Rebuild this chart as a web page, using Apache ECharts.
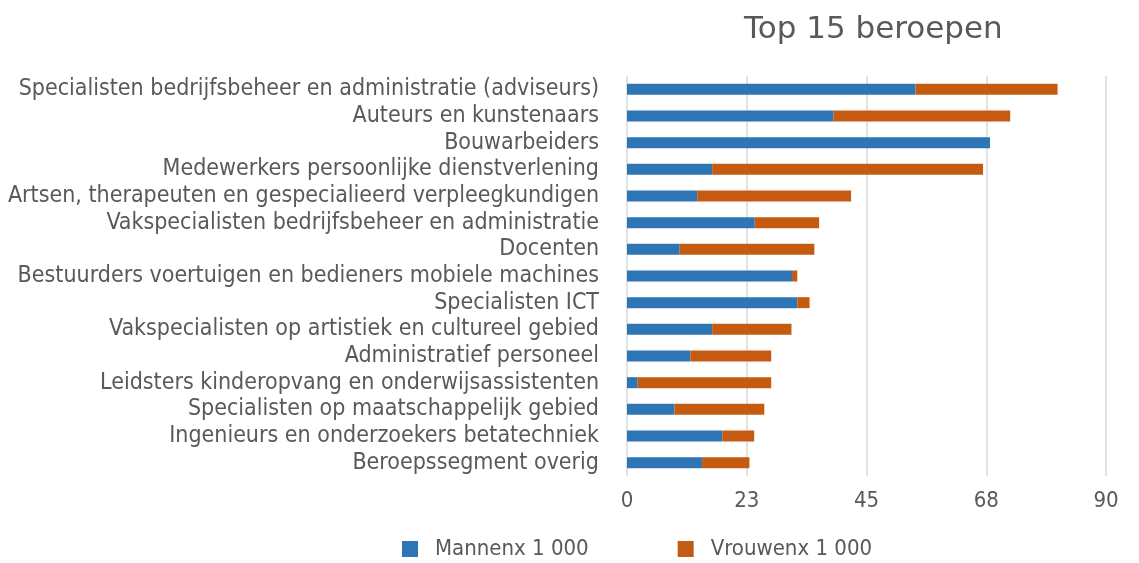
<!DOCTYPE html>
<html>
<head>
<meta charset="utf-8">
<script src="https://cdn.jsdelivr.net/npm/echarts@6/dist/echarts.min.js"></script>
<style>
  html, body { margin: 0; padding: 0; background: #fff; }
  #chart { width: 1139px; height: 563px; }
</style>
</head>
<body>
<div id="chart"></div>
<script>
// beroepen, van boven naar beneden
const categories = [
  'Specialisten bedrijfsbeheer en administratie (adviseurs)',
  'Auteurs en kunstenaars',
  'Bouwarbeiders',
  'Medewerkers persoonlijke dienstverlening',
  'Artsen, therapeuten en gespecialieerd verpleegkundigen',
  'Vakspecialisten bedrijfsbeheer en administratie',
  'Docenten',
  'Bestuurders voertuigen en bedieners mobiele machines',
  'Specialisten ICT',
  'Vakspecialisten op artistiek en cultureel gebied',
  'Administratief personeel',
  'Leidsters kinderopvang en onderwijsassistenten',
  'Specialisten op maatschappelijk gebied',
  'Ingenieurs en onderzoekers betatechniek',
  'Beroepssegment overig'
]

// x 1 000
const mannen = [54.2, 38.8, 68.2, 16.0, 13.2, 24.0, 9.9, 31.0, 32.0, 16.0, 11.9, 2.0, 8.9, 17.9, 14.1]
const vrouwen = [26.7, 33.2, 0, 50.9, 28.9, 12.1, 25.3, 1.0, 2.3, 14.9, 15.2, 25.1, 16.9, 6.0, 8.9]

const xTicks = { min: 0, max: 90, interval: 22.5 }

const grey = '#595959'
const font = 'DejaVu Sans Condensed'

const chart = echarts.init(document.getElementById('chart'))

chart.setOption({
  animation: false,
  title: {
    text: 'Top 15 beroepen',
    left: 739,
    top: 9,
    textStyle: { fontFamily: 'DejaVu Sans', fontSize: 31, fontWeight: 'normal', color: grey }
  },
  legend: {
    bottom: -2,
    left: 397,
    itemWidth: 16,
    itemHeight: 16,
    itemGap: 89,
    icon: 'rect',
    textStyle: { fontFamily: font, fontSize: 22, color: grey, padding: [0, 0, 0, 12] }
  },
  grid: {
    left: 627,
    right: 33,
    top: 76,
    bottom: 87
  },
  xAxis: {
    type: 'value',
    min: xTicks.min,
    max: xTicks.max,
    interval: xTicks.interval,
    axisLine: { show: false },
    axisTick: { show: false },
    axisLabel: {
      fontFamily: font,
      fontSize: 22,
      color: grey,
      margin: 14,
      formatter: v => String(Math.round(v))
    },
    splitLine: { lineStyle: { color: '#d9d9d9', width: 1.5 } }
  },
  yAxis: {
    type: 'category',
    inverse: true,
    data: categories,
    axisLine: { show: false },
    axisTick: { show: false },
    axisLabel: { interval: 0, fontFamily: font, fontSize: 23, color: grey, margin: 28 }
  },
  series: [
    {
      name: 'Mannenx 1 000',
      type: 'bar',
      stack: 'totaal',
      data: mannen,
      barWidth: 11,
      itemStyle: { color: '#2E75B6' }
    },
    {
      name: 'Vrouwenx 1 000',
      type: 'bar',
      stack: 'totaal',
      data: vrouwen,
      barWidth: 11,
      itemStyle: { color: '#C55A11' }
    }
  ]
})
</script>
</body>
</html>
